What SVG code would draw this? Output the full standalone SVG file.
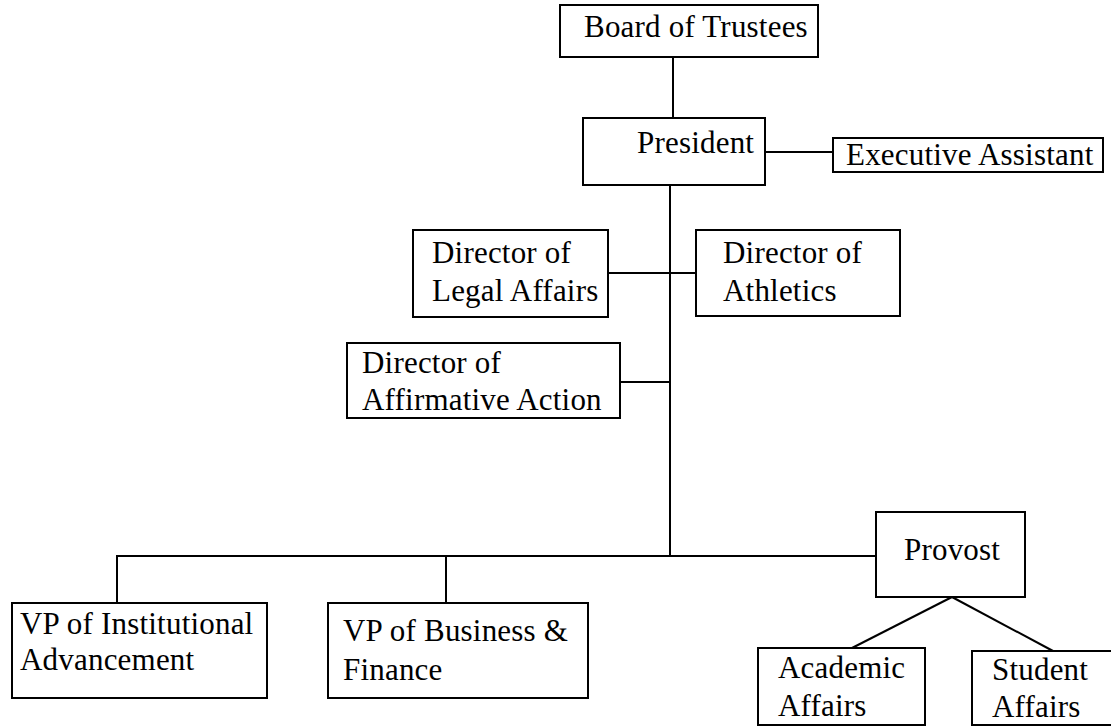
<svg xmlns="http://www.w3.org/2000/svg" width="1111" height="727" viewBox="0 0 1111 727">
<style>
.box{fill:#fff;stroke:#000;stroke-width:2}
.t{font-family:"Liberation Serif","Times New Roman",serif;font-size:31px;letter-spacing:0.2px;fill:#000}
.c{stroke:#000;stroke-width:2;fill:none}
</style>
<rect width="1111" height="727" fill="#fff"/>
<g id="connectors">
<line class="c" x1="673" y1="57" x2="673" y2="118"/>
<line class="c" x1="765" y1="152" x2="833" y2="152"/>
<line class="c" x1="670" y1="185" x2="670" y2="556"/>
<line class="c" x1="608" y1="273" x2="696" y2="273"/>
<line class="c" x1="620" y1="382" x2="670" y2="382"/>
<polyline class="c" points="117,603 117,556 876,556"/>
<line class="c" x1="446" y1="556" x2="446" y2="603"/>
<line class="c" x1="952" y1="597" x2="852" y2="648"/>
<line class="c" x1="952" y1="597" x2="1053" y2="651"/>
</g>
<g id="board">
<rect class="box" x="560" y="5" width="258" height="52"/>
<text class="t" x="584" y="37">Board of Trustees</text>
</g>
<g id="president">
<rect class="box" x="583" y="118" width="182" height="67"/>
<text class="t" x="637" y="153">President</text>
</g>
<g id="exec-assistant">
<rect class="box" x="833" y="138" width="270" height="34"/>
<text class="t" x="846" y="165">Executive Assistant</text>
</g>
<g id="legal">
<rect class="box" x="413" y="230" width="195" height="87"/>
<text class="t" x="432" y="263">Director of</text>
<text class="t" x="432" y="301">Legal Affairs</text>
</g>
<g id="athletics">
<rect class="box" x="696" y="230" width="204" height="86"/>
<text class="t" x="723" y="263">Director of</text>
<text class="t" x="723" y="301">Athletics</text>
</g>
<g id="affirmative">
<rect class="box" x="347" y="343" width="273" height="75"/>
<text class="t" x="362" y="373">Director of</text>
<text class="t" x="362" y="410">Affirmative Action</text>
</g>
<g id="vp-institutional">
<rect class="box" x="12" y="603" width="255" height="95"/>
<text class="t" x="20" y="634">VP of Institutional</text>
<text class="t" x="20" y="670">Advancement</text>
</g>
<g id="vp-business">
<rect class="box" x="328" y="603" width="260" height="95"/>
<text class="t" x="343" y="641">VP of Business &amp;</text>
<text class="t" x="343" y="680">Finance</text>
</g>
<g id="provost">
<rect class="box" x="876" y="512" width="149" height="85"/>
<text class="t" x="904" y="560">Provost</text>
</g>
<g id="academic">
<rect class="box" x="758" y="648" width="167" height="77"/>
<text class="t" x="778" y="678">Academic</text>
<text class="t" x="778" y="716">Affairs</text>
</g>
<g id="student">
<rect class="box" x="972" y="651" width="150" height="74"/>
<text class="t" x="992" y="680">Student</text>
<text class="t" x="992" y="717">Affairs</text>
</g>
</svg>
